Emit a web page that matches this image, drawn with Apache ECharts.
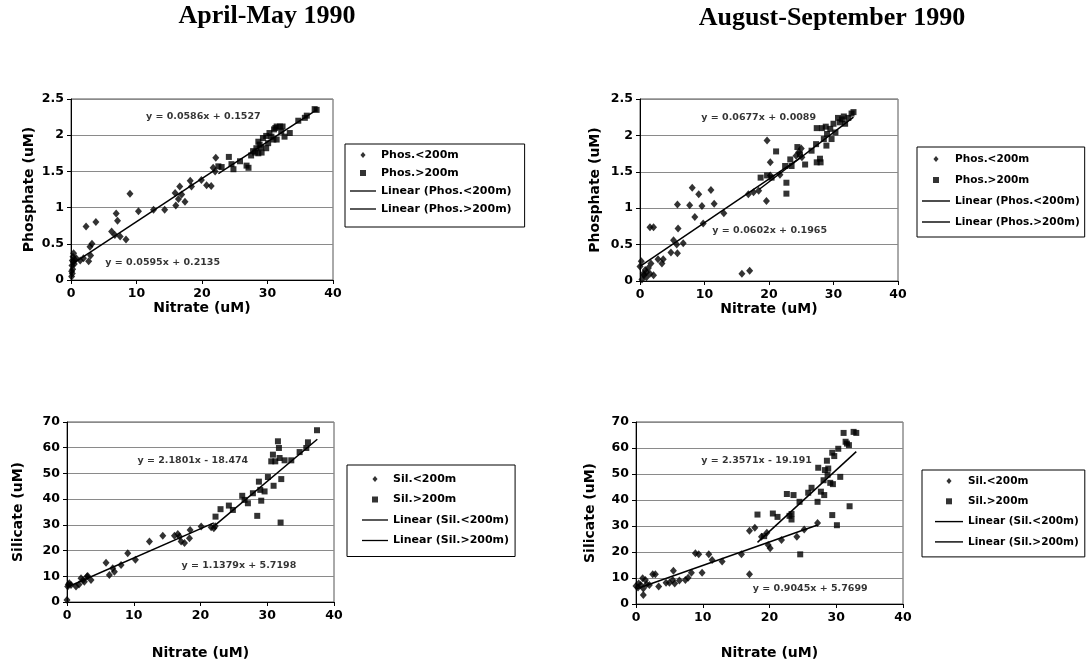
<!DOCTYPE html>
<html>
<head>
<meta charset="UTF-8">
<title>Nitrate relations 1990</title>
<script src="https://cdn.jsdelivr.net/npm/echarts@6/dist/echarts.min.js"></script>
<style>
  html, body { margin: 0; padding: 0; background: #fff; }
  #box { width: 1092px; height: 665px; }
</style>
</head>
<body>
<div id="box"></div>
<script>
// ---- data ----
const periods = ['April-May 1990', 'August-September 1990'];
const xTicks = { min: 0, max: 40, interval: 10 };
const phosTicks = { min: 0, max: 2.5, interval: 0.5 };
const silTicks = { min: 0, max: 70, interval: 10 };

const phosNames = ['Phos.<200m', 'Phos.>200m', 'Linear (Phos.<200m)', 'Linear (Phos.>200m)'];
const silNames = ['Sil.<200m', 'Sil.>200m', 'Linear (Sil.<200m)', 'Linear (Sil.>200m)'];

// April-May, phosphate
const phosLowAM = [[0.1,0.05],[0.1,0.12],[0.15,0.2],[0.2,0.27],[0.25,0.15],[0.3,0.32],[0.4,0.37],[0.5,0.22],[0.6,0.28],[0.2,0.09],
  [0.35,0.25],[0.8,0.3],[1.4,0.27],[1.9,0.3],[2.3,0.74],[2.7,0.26],[3.0,0.34],[3.2,0.5],[2.9,0.46],[3.8,0.8],
  [6.2,0.67],[6.9,0.92],[7.1,0.82],[6.7,0.62],[7.5,0.6],[8.4,0.56],[9.0,1.19],[10.3,0.95],[12.6,0.97],[14.3,0.97],
  [15.9,1.2],[16.0,1.03],[16.6,1.29],[16.9,1.18],[17.4,1.08],[16.4,1.12],[18.2,1.37],[18.4,1.29],[19.9,1.38],[20.7,1.31],
  [21.4,1.3],[22.1,1.69],[21.7,1.55],[22.0,1.5]];
const phosHighAM = [[22.5,1.57],[23.0,1.56],[24.1,1.7],[24.5,1.6],[24.8,1.53],[25.8,1.64],[26.8,1.58],[27.1,1.55],[27.8,1.78],[28.3,1.82],
  [28.6,1.91],[28.8,1.87],[29.1,1.76],[29.3,1.96],[29.8,1.99],[30.1,1.89],[30.6,1.98],[30.9,1.94],[31.0,2.08],[31.4,2.12],
  [31.9,2.12],[32.1,2.05],[32.6,1.98],[33.4,2.03],[34.7,2.2],[35.7,2.24],[36.0,2.27],[37.2,2.36],[37.5,2.35],[29.8,1.82],
  [31.4,1.94],[28.6,1.75],[28.1,1.76],[30.3,2.03],[27.5,1.72],[29.0,1.83],[31.2,2.1],[32.3,2.12]];
const phosFitLowAM = [[0, 0.21], [22, 1.52]];
const phosFitHighAM = [[22.5, 1.47], [37.5, 2.35]];

// August-September, phosphate
const phosLowAS = [[0.2,0.27],[0.5,0.1],[0.8,0.15],[1.0,0.05],[1.55,0.1],[2.1,0.08],[1.3,0.18],[0.3,0.02],[0.0,0.2],[0.6,0.08],
  [1.0,0.12],[1.55,0.74],[2.1,0.74],[1.7,0.24],[2.8,0.3],[3.4,0.24],[3.6,0.3],[4.8,0.39],[5.2,0.56],[5.7,0.5],
  [5.8,0.38],[5.8,1.05],[5.9,0.72],[6.7,0.52],[7.7,1.04],[8.1,1.28],[8.5,0.88],[9.1,1.19],[9.6,1.03],[9.8,0.79],
  [11.0,1.25],[11.5,1.06],[13.0,0.93],[15.8,0.1],[17.0,0.14],[16.8,1.19],[17.6,1.22],[18.4,1.24],[19.6,1.1],[19.7,1.93],
  [20.2,1.63],[20.2,1.45],[21.7,1.46],[24.6,1.77],[25.1,1.7],[24.2,1.72],[25.0,1.82]];
const phosHighAS = [[18.7,1.42],[19.7,1.45],[20.4,1.42],[21.1,1.78],[22.5,1.58],[22.7,1.35],[22.7,1.2],[23.3,1.67],[23.5,1.58],[24.4,1.84],
  [24.8,1.74],[25.6,1.6],[26.6,1.79],[27.3,1.88],[27.4,1.63],[27.9,1.68],[28.2,2.1],[28.5,1.95],[28.9,1.86],[29.0,2.02],
  [29.5,2.09],[29.7,1.95],[30.0,2.16],[30.3,2.04],[30.7,2.24],[31.0,2.18],[31.6,2.26],[31.8,2.16],[32.3,2.24],[32.8,2.3],
  [33.1,2.32],[27.4,2.1],[28.8,2.12],[31.3,2.22],[28.0,1.63]];
const phosFitLowAS = [[0, 0.20], [25, 1.70]];
const phosFitHighAS = [[18.5, 1.26], [33.1, 2.25]];

// April-May, silicate
const silLowAM = [[0,0.8],[0.1,6],[0.35,7.3],[0.6,6.6],[1.35,6],[1.8,6.8],[2.1,9.2],[2.6,7.9],[3.0,9.9],[3.1,10.1],
  [3.6,8.6],[5.85,15.3],[6.35,10.5],[6.85,13.1],[7.1,11.8],[8.1,14.4],[9.1,19.0],[10.25,16.4],[12.35,23.5],[14.35,25.8],
  [16.1,25.8],[16.6,26.4],[16.85,25.5],[17.1,23.5],[17.6,22.9],[18.35,24.8],[18.45,28],[20.1,29.4],[21.6,29.1],[22.0,28.7],
  [22.2,29.5],[0.2,6.8],[2.4,8.5]];
const silHighAM = [[22.25,33.2],[23,36.1],[24.25,37.5],[24.85,35.8],[26.25,41.3],[26.6,39.7],[27.1,38.4],[27.85,42.3],[28.5,33.5],[28.75,46.8],
  [28.95,43.6],[29.1,39.4],[29.6,43],[30.1,48.6],[30.6,54.7],[30.85,57.3],[30.95,45.2],[31.2,54.7],[31.6,62.5],[31.75,59.9],
  [31.85,56],[32,30.9],[32.1,47.8],[32.6,55.1],[33.6,55.1],[34.85,58.3],[35.85,59.9],[36.1,62.1],[37.45,66.8]];
const silFitLowAM = [[0, 5.72], [22, 30.75]];
const silFitHighAM = [[22.2, 29.92], [37.5, 63.28]];

// August-September, silicate
const silLowAS = [[0,6.9],[0.4,7.9],[0.7,7.3],[1.1,6],[1.4,9.2],[1.6,7.6],[0.3,6.3],[1.0,9.9],[1.1,3.5],[2.0,7.3],
  [2.5,11.4],[2.9,11.4],[3.4,6.7],[4.5,8.2],[5.0,8.2],[5.5,9.2],[5.6,12.8],[5.8,7.9],[6.5,9.0],[7.4,9.2],
  [7.8,10.1],[8.3,12.0],[8.9,19.5],[9.4,19.1],[9.9,12.0],[10.9,19.1],[11.4,16.9],[12.9,16.3],[15.8,19.1],[17.0,11.4],
  [17.0,28.2],[17.8,29.3],[18.8,25.9],[19.6,27.4],[19.8,22.7],[20.1,21.4],[21.8,24.6],[24.1,25.9],[25.2,28.7],[27.2,31.2]];
const silHighAS = [[18.2,34.4],[19.2,26.1],[20.5,34.8],[21.2,33.5],[22.6,42.3],[23.0,33.9],[23.3,32.5],[23.6,41.9],[23.3,34.6],[24.5,39.3],
  [24.6,19.1],[25.8,42.8],[26.3,44.7],[27.2,39.3],[27.3,52.4],[27.7,43.2],[28.1,47.6],[28.2,41.9],[28.3,51.5],[28.6,55.1],
  [28.7,49.7],[28.8,52.1],[29.1,46.6],[29.4,58.2],[29.4,34.2],[29.5,46.1],[29.7,56.9],[30.1,30.3],[30.3,59.7],[30.6,48.9],
  [31.1,65.8],[31.4,62.4],[31.6,61.7],[31.9,61.1],[32.0,37.6],[32.6,66.2],[33.0,65.8]];
const silFitLowAS = [[0, 5.77], [27.2, 30.37]];
const silFitHighAS = [[18.2, 23.71], [33.0, 58.59]];

// regression equations [x, y, text] (placed where they sit in the figure)
const eqPhosAM = [[20.2, 2.26, 'y = 0.0586x + 0.1527'], [14.0, 0.24, 'y = 0.0595x + 0.2135']];
const eqPhosAS = [[18.4, 2.25, 'y = 0.0677x + 0.0089'], [20.1, 0.69, 'y = 0.0602x + 0.1965']];
const eqSilAM = [[18.85, 55.1, 'y = 2.1801x - 18.474'], [25.75, 14.0, 'y = 1.1379x + 5.7198']];
const eqSilAS = [[18.06, 55.3, 'y = 2.3571x - 19.191'], [26.1, 5.76, 'y = 0.9045x + 5.7699']];

// ---- layout ----
const FONT = 'DejaVu Sans';
const LINE_ICON = 'path://M0,0H30V1.5H0Z';
const DIAMOND_ICON = 'path://M3,0L6,3.5L3,7L0,3.5Z';
const SQUARE_ICON = 'path://M0,0H6V6H0Z';

const panels = [
  { grid: { left: 71, top: 99, width: 262, height: 181 }, y: phosTicks, yName: 'Phosphate (uM)', yGap: 35, xGap: 18,
    names: phosNames, low: phosLowAM, high: phosHighAM, fitLow: phosFitLowAM, fitHigh: phosFitHighAM, eq: eqPhosAM,
    legend: { left: 345, top: 144, padding: [5, 13, 12, 5], itemWidth: 26, itemGap: 6, fontSize: 11 } },
  { grid: { left: 640, top: 99, width: 258, height: 182 }, y: phosTicks, yName: 'Phosphate (uM)', yGap: 38, xGap: 17,
    names: phosNames, low: phosLowAS, high: phosHighAS, fitLow: phosFitLowAS, fitHigh: phosFitHighAS, eq: eqPhosAS,
    legend: { left: 917, top: 147, padding: [6, 5, 9, 5], itemWidth: 28, itemGap: 9, fontSize: 10.5 } },
  { grid: { left: 67, top: 422, width: 267, height: 180 }, y: silTicks, yName: 'Silicate (uM)', yGap: 42, xGap: 44,
    names: silNames, low: silLowAM, high: silHighAM, fitLow: silFitLowAM, fitHigh: silFitHighAM, eq: eqSilAM,
    legend: { left: 347, top: 465, padding: [8, 6, 10, 15], itemWidth: 26, itemGap: 8.5, fontSize: 11 } },
  { grid: { left: 636, top: 422, width: 267, height: 182 }, y: silTicks, yName: 'Silicate (uM)', yGap: 39, xGap: 42,
    names: silNames, low: silLowAS, high: silHighAS, fitLow: silFitLowAS, fitHigh: silFitHighAS, eq: eqSilAS,
    legend: { left: 922, top: 470, padding: [5, 6, 9, 13], itemWidth: 28, itemGap: 8.3, fontSize: 10.5 } }
];

const tickText = { color: '#000', fontFamily: FONT, fontWeight: 'bold', fontSize: 12.5 };
const nameText = { color: '#000', fontFamily: FONT, fontWeight: 'bold', fontSize: 14 };

const grids = [], xAxes = [], yAxes = [], legends = [], series = [];

panels.forEach(function (p, i) {
  grids.push(Object.assign({ show: true, borderColor: '#555', borderWidth: 1, backgroundColor: '#fff' }, p.grid));
  xAxes.push({
    type: 'value', gridIndex: i, min: xTicks.min, max: xTicks.max, interval: xTicks.interval,
    name: 'Nitrate (uM)', nameLocation: 'middle', nameGap: p.xGap, nameTextStyle: nameText,
    axisLine: { lineStyle: { color: '#000', width: 1 } },
    axisTick: { length: 4, lineStyle: { color: '#000' } },
    axisLabel: Object.assign({ margin: 7 }, tickText),
    splitLine: { show: false }
  });
  yAxes.push({
    type: 'value', gridIndex: i, min: p.y.min, max: p.y.max, interval: p.y.interval,
    name: p.yName, nameLocation: 'middle', nameGap: p.yGap, nameTextStyle: nameText,
    axisLine: { show: true, lineStyle: { color: '#000', width: 1 } },
    axisTick: { show: true, length: 4, lineStyle: { color: '#000' } },
    axisLabel: Object.assign({ margin: 7 }, tickText),
    splitLine: { lineStyle: { color: '#8a8a8a', width: 1 } }
  });
  legends.push({
    orient: 'vertical', left: p.legend.left, top: p.legend.top, padding: p.legend.padding,
    borderColor: '#000', borderWidth: 1, backgroundColor: '#fff',
    itemWidth: p.legend.itemWidth, itemHeight: 6, itemGap: p.legend.itemGap,
    selectedMode: false, symbolKeepAspect: true,
    textStyle: { color: '#000', fontFamily: FONT, fontWeight: 'bold', fontSize: p.legend.fontSize, lineHeight: 12 },
    data: [
      { name: p.names[0], icon: DIAMOND_ICON },
      { name: p.names[1], icon: SQUARE_ICON },
      { name: p.names[2], icon: LINE_ICON },
      { name: p.names[3], icon: LINE_ICON }
    ]
  });
  const ax = { xAxisIndex: i, yAxisIndex: i };
  series.push(Object.assign({ type: 'scatter', name: p.names[0], data: p.low, symbol: 'diamond', symbolSize: [7, 8],
    itemStyle: { color: '#000' }, silent: true }, ax));
  series.push(Object.assign({ type: 'scatter', name: p.names[1], data: p.high, symbol: 'rect', symbolSize: 6,
    itemStyle: { color: '#000' }, silent: true }, ax));
  series.push(Object.assign({ type: 'line', name: p.names[2], data: p.fitLow, symbol: 'none',
    lineStyle: { color: '#000', width: 1.5 }, itemStyle: { color: '#000' }, silent: true }, ax));
  series.push(Object.assign({ type: 'line', name: p.names[3], data: p.fitHigh, symbol: 'none',
    lineStyle: { color: '#000', width: 1.5 }, itemStyle: { color: '#000' }, silent: true }, ax));
  series.push(Object.assign({ type: 'scatter', name: 'eq' + i, data: p.eq, symbolSize: 0, silent: true,
    label: { show: true, position: 'inside', formatter: function (d) { return d.value[2]; },
      color: '#000', fontFamily: FONT, fontWeight: 'bold', fontSize: 9.5 } }, ax));
});

const titleStyle = { color: '#000', fontFamily: 'Liberation Serif', fontWeight: 'bold', fontSize: 26 };

const option = {
  animation: false,
  backgroundColor: '#fff',
  title: [
    { text: periods[0], left: 267, top: 3, textAlign: 'center', padding: 0, textStyle: titleStyle },
    { text: periods[1], left: 832, top: 5, textAlign: 'center', padding: 0, textStyle: titleStyle }
  ],
  grid: grids,
  xAxis: xAxes,
  yAxis: yAxes,
  legend: legends,
  series: series
};

const myChart = echarts.init(document.getElementById('box'));
myChart.setOption(option);
</script>
</body>
</html>
